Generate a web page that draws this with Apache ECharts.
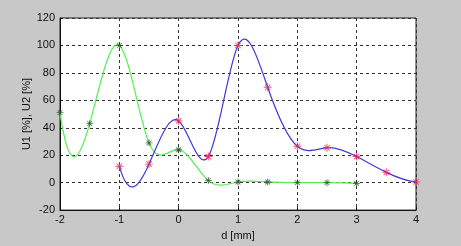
<!DOCTYPE html>
<html><head><meta charset="utf-8">
<script src="https://cdn.jsdelivr.net/npm/echarts@6/dist/echarts.min.js"></script>
<style>html,body{margin:0;padding:0;background:#c8c8c8}#c{width:461px;height:246px}</style>
</head><body><div id="c"></div>
<script>
var xTicks = [-2, -1, 0, 1, 2, 3, 4];
var yTicks = [-20, 0, 20, 40, 60, 80, 100, 120];
var u1X = [-1, -0.5, 0, 0.5, 1, 1.5, 2, 2.5, 3, 3.5, 4];
var u1Y = [12, 13.5, 45, 19, 100, 69.5, 26.5, 25.5, 19, 7.5, 0.5];
var u2X = [-2, -1.5, -1, -0.5, 0, 0.5, 1, 1.5, 2, 2.5, 3];
var u2Y = [51, 43, 100, 29, 24, 1.5, 0.5, 0.5, 0, 0, -0.5];

var star = 'path://M0,4.4 L10,4.4 L10,5.6 L0,5.6 Z M4.4,0 L5.6,0 L5.6,10 L4.4,10 Z M1.2,2 L2,1.2 L8.8,8 L8,8.8 Z M2,8.8 L1.2,8 L8,1.2 L8.8,2 Z';
function pairs(xs, ys){ return xs.map(function(x,i){return [x, ys[i]];}); }

// slopes of a not-a-knot cubic spline (used only to shape the bezier curve between the read points)
function splineSlopes(xs, ys){
  var n = xs.length, h = [], i, j, k;
  for (i = 0; i < n - 1; i++) h.push(xs[i+1] - xs[i]);
  var A = [], b = [];
  for (i = 0; i < n; i++){ A.push(new Array(n).fill(0)); b.push(0); }
  A[0][0] = -h[1]; A[0][1] = h[0] + h[1]; A[0][2] = -h[0];
  for (i = 1; i < n - 1; i++){
    A[i][i-1] = h[i-1]; A[i][i] = 2*(h[i-1]+h[i]); A[i][i+1] = h[i];
    b[i] = 6*((ys[i+1]-ys[i])/h[i] - (ys[i]-ys[i-1])/h[i-1]);
  }
  A[n-1][n-3] = -h[n-2]; A[n-1][n-2] = h[n-3] + h[n-2]; A[n-1][n-1] = -h[n-3];
  for (k = 0; k < n; k++){
    var p = k;
    for (i = k+1; i < n; i++) if (Math.abs(A[i][k]) > Math.abs(A[p][k])) p = i;
    var t = A[k]; A[k] = A[p]; A[p] = t; var tb = b[k]; b[k] = b[p]; b[p] = tb;
    for (i = k+1; i < n; i++){
      var f = A[i][k] / A[k][k];
      for (j = k; j < n; j++) A[i][j] -= f*A[k][j];
      b[i] -= f*b[k];
    }
  }
  var M = new Array(n).fill(0);
  for (i = n-1; i >= 0; i--){
    var s = b[i];
    for (j = i+1; j < n; j++) s -= A[i][j]*M[j];
    M[i] = s / A[i][i];
  }
  var m = [];
  for (i = 0; i < n - 1; i++) m.push((ys[i+1]-ys[i])/h[i] - h[i]*(2*M[i] + M[i+1])/6);
  m.push((ys[n-1]-ys[n-2])/h[n-2] + h[n-2]*(M[n-2] + 2*M[n-1])/6);
  return m;
}

function curveSeries(xs, ys, color){
  var m = splineSlopes(xs, ys);
  return {
    type: 'custom', data: pairs(xs, ys), clip: true, z: 2,
    renderItem: function(params, api){
      var i = params.dataIndex;
      if (i >= xs.length - 1) return null;
      var hh = xs[i+1] - xs[i];
      var p0 = api.coord([xs[i], ys[i]]);
      var p1 = api.coord([xs[i+1], ys[i+1]]);
      var c1 = api.coord([xs[i] + hh/3, ys[i] + m[i]*hh/3]);
      var c2 = api.coord([xs[i+1] - hh/3, ys[i+1] - m[i+1]*hh/3]);
      return {type: 'bezierCurve', shape: {x1: p0[0], y1: p0[1], x2: p1[0], y2: p1[1],
        cpx1: c1[0], cpy1: c1[1], cpx2: c2[0], cpy2: c2[1]},
        style: {stroke: color, lineWidth: 1.2, fill: null}};
    }
  };
}

var chart = echarts.init(document.getElementById('c'), null, {renderer:'canvas'});
chart.setOption({
  backgroundColor: '#c8c8c8',
  animation: false,
  grid: {left: 60, right: 45, top: 18, bottom: 29, show: true, backgroundColor: '#ffffff', borderColor: '#222', borderWidth: 1},
  xAxis: {
    type: 'value', min: -2, max: 4, interval: 1,
    name: 'd [mm]', nameLocation: 'middle', nameGap: 18,
    nameTextStyle: {fontFamily: 'Liberation Sans', fontSize: 11, color: '#111'},
    axisLine: {show: true, onZero: false, lineStyle: {color: '#111'}},
    axisTick: {show: true, inside: true, length: 3, lineStyle: {color: '#111'}},
    axisLabel: {fontFamily: 'Liberation Sans', fontSize: 11, color: '#111', margin: 4,
      formatter: function(v){ return xTicks.indexOf(v) >= 0 ? String(v) : ''; }},
    splitLine: {show: true, lineStyle: {color: '#333', type: [3, 3], width: 1}}
  },
  yAxis: {
    type: 'value', min: -20, max: 120, interval: 20,
    name: 'U1 [%], U2 [%]', nameLocation: 'middle', nameGap: 28, nameRotate: 90,
    nameMoveOverlap: false,
    nameTextStyle: {fontFamily: 'Liberation Sans', fontSize: 11, color: '#111'},
    axisLine: {show: true, onZero: false, lineStyle: {color: '#111'}},
    axisTick: {show: true, inside: true, length: 3, lineStyle: {color: '#111'}},
    axisLabel: {fontFamily: 'Liberation Sans', fontSize: 11, color: '#111', margin: 5,
      formatter: function(v){ return yTicks.indexOf(v) >= 0 ? String(v) : ''; }},
    splitLine: {show: true, lineStyle: {color: '#333', type: [3, 3], width: 1}}
  },
  series: [
    curveSeries(u2X, u2Y, '#55ee55'),
    curveSeries(u1X, u1Y, '#3a3ad8'),
    {type: 'scatter', data: pairs(u2X, u2Y), symbol: star, symbolSize: 7,
     itemStyle: {color: '#1f4a1f'}, z: 5},
    {type: 'scatter', data: pairs(u1X, u1Y), symbol: star, symbolSize: 8,
     itemStyle: {color: '#e8285a'}, z: 6}
  ]
});
</script></body></html>
